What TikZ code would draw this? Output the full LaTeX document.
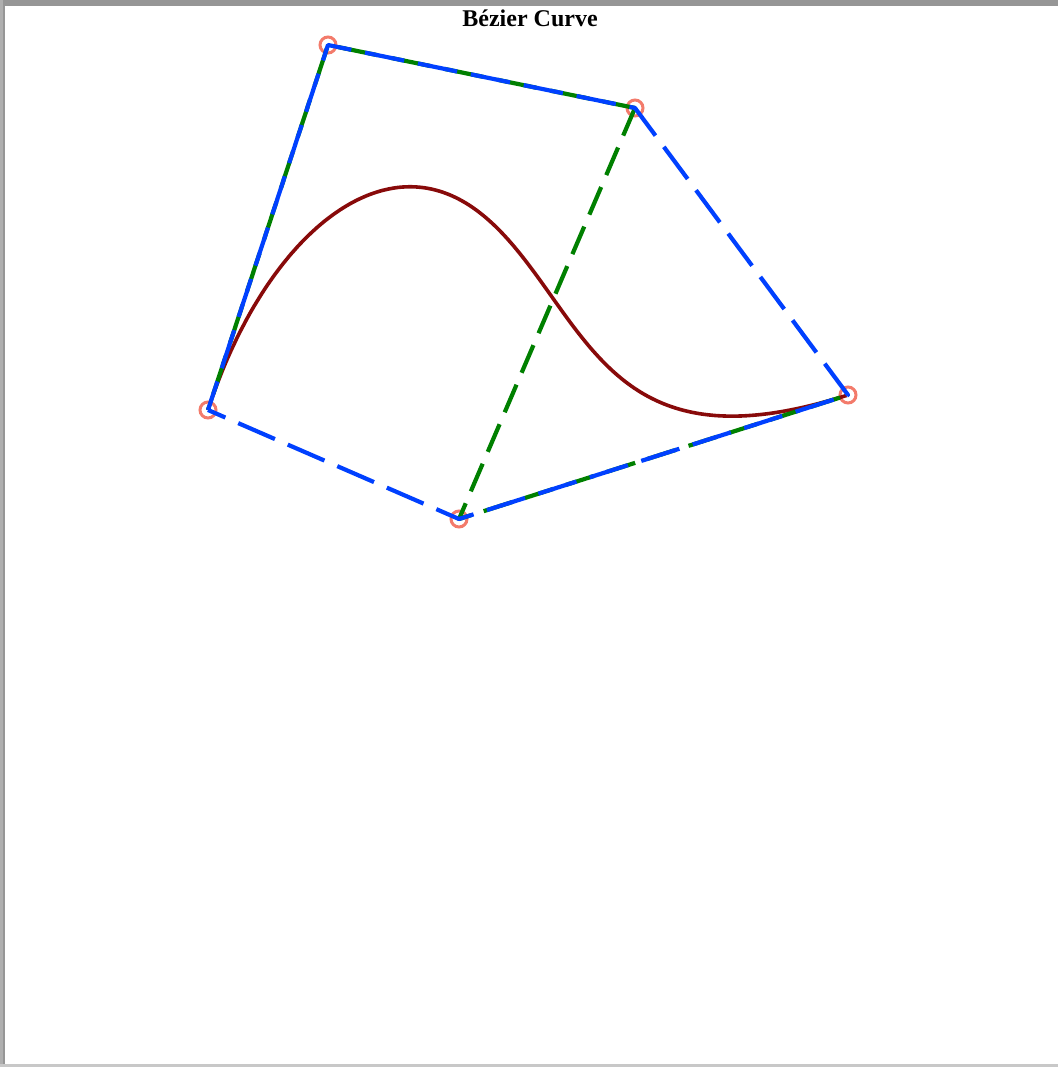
\documentclass[tikz,border=0pt]{standalone}
\usepackage{fontspec}
\setmainfont{Liberation Serif}
\definecolor{polyblue}{RGB}{0,64,255}
\definecolor{polygreen}{RGB}{0,128,0}
\definecolor{curvered}{RGB}{136,10,10}
\definecolor{ctrlred}{RGB}{240,90,70}
\definecolor{frameA}{RGB}{150,150,150}
\definecolor{frameB}{RGB}{175,175,175}
\definecolor{frameC}{RGB}{200,200,200}
\begin{document}
\begin{tikzpicture}[x=1pt,y=-1pt,
  ctrl/.style={circle,draw=ctrlred,draw opacity=0.8,line width=3pt,minimum size=16pt,inner sep=0pt},
  hullline/.style={draw=polyblue,line width=4.2pt,dash pattern=on 40pt off 14pt,dash phase=10pt,line join=round},
  ctrlline/.style={draw=polygreen,line width=4.2pt,dash pattern=on 40pt off 14pt,dash phase=37pt,line join=round},
  ctrllinetwo/.style={draw=polygreen,line width=4.2pt,dash pattern=on 30pt off 13pt,line join=round},
  curveline/.style={draw=curvered,line width=3.6pt}]
\useasboundingbox (0,0) rectangle (1058,1067);
% frame
\fill[frameA] (0,0) rectangle (1058,6);
\fill[frameB] (0,0) rectangle (5,1067);
\fill[frameA] (3,0) rectangle (5,1067);
\fill[frameC] (0,1064) rectangle (1058,1067);
% title
\node[font=\fontsize{24}{28}\selectfont\bfseries,anchor=base,inner sep=0pt] (title) at (530,27) {Bézier Curve};
% control points
\coordinate (p0) at (208,410);
\coordinate (p1) at (328,45);
\coordinate (p2) at (635,108);
\coordinate (p3) at (459,519);
\coordinate (p4) at (848,395);
\foreach \p in {p0,p1,p2,p3,p4} \node[ctrl] (c\p) at (\p) {};
% quartic Bezier curve
\draw[curveline] plot[domain=0:1,samples=200,variable=\t,smooth]
 ({(1-\t)^4*208+4*(1-\t)^3*\t*328+6*(1-\t)^2*\t^2*635+4*(1-\t)*\t^3*459+\t^4*848},
  {(1-\t)^4*410+4*(1-\t)^3*\t*45+6*(1-\t)^2*\t^2*108+4*(1-\t)*\t^3*519+\t^4*395});
% control polygon
\draw[ctrlline] (p0) -- (p1) -- (p2);
\draw[ctrllinetwo] (p2) -- (p3) -- (p4);
% hull
\draw[hullline] (p0) -- (p1) -- (p2) -- (p4) -- (p3) -- cycle;
\end{tikzpicture}
\end{document}
